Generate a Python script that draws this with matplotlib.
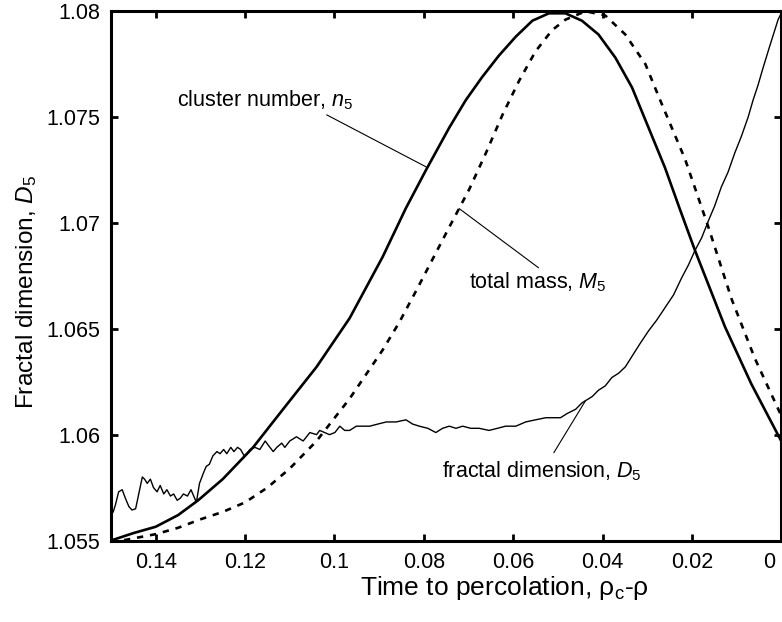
import matplotlib
matplotlib.use("Agg")
import matplotlib.pyplot as plt
import matplotlib.transforms as mtransforms
import numpy as np

plt.rcParams['font.family'] = ['Liberation Sans', 'DejaVu Sans']
plt.rcParams['mathtext.fontset'] = 'custom'
plt.rcParams['mathtext.rm'] = 'Liberation Sans'
plt.rcParams['mathtext.it'] = 'Liberation Sans:italic'

# cluster number n5 (solid)
n5_x = [0.15, 0.145, 0.14, 0.135, 0.1305, 0.125, 0.1182, 0.1115, 0.104, 0.0966,
        0.0892, 0.084, 0.0795, 0.0743, 0.0706, 0.0669, 0.0632, 0.0594, 0.0557,
        0.052, 0.0483, 0.0446, 0.0409, 0.0371, 0.0334, 0.0297, 0.026, 0.0226,
        0.0193, 0.0126, 0.0067, 0.0]
n5_y = [1.0550, 1.05535, 1.05565, 1.0562, 1.0569, 1.0579, 1.0594, 1.0612, 1.0632,
        1.0655, 1.0684, 1.0707, 1.0725, 1.0745, 1.0758, 1.0769, 1.0779, 1.0788,
        1.07955, 1.0799, 1.0799, 1.07955, 1.0789, 1.0778, 1.0764, 1.0745, 1.0726,
        1.0706, 1.0687, 1.0651, 1.0624, 1.0597]

# total mass M5 (dashed)
m5_x = [0.15, 0.145, 0.14, 0.135, 0.13, 0.125, 0.12, 0.115, 0.11, 0.104, 0.0966,
        0.0892, 0.0855, 0.0817, 0.078, 0.0743, 0.0698, 0.0661, 0.0624, 0.0587,
        0.055, 0.0513, 0.0483, 0.0438, 0.0394, 0.0349, 0.0304, 0.0271, 0.0215,
        0.0163, 0.0111, 0.0059, 0.0]
m5_y = [1.0549, 1.0551, 1.0553, 1.0556, 1.0560, 1.05635, 1.0568, 1.0575, 1.0584,
        1.0597, 1.0617, 1.0640, 1.0653, 1.0668, 1.0683, 1.0698, 1.0716, 1.0733,
        1.0751, 1.0767, 1.0781, 1.0791, 1.0796, 1.0800, 1.0798, 1.0789, 1.0775,
        1.0758, 1.0730, 1.0698, 1.0664, 1.0636, 1.0609]

# fractal dimension D5 (thin, noisy)
d5_x = [0.15, 0.1495, 0.149, 0.1483, 0.1475, 0.1468, 0.146, 0.1453, 0.1445, 0.1438,
        0.143, 0.1425, 0.1419, 0.1412, 0.1405, 0.1397, 0.139, 0.1382, 0.1375,
        0.1367, 0.136, 0.1352, 0.1345, 0.1338, 0.1329, 0.1321, 0.1315, 0.1309,
        0.1302, 0.1293, 0.1287, 0.128, 0.1272, 0.1263, 0.1256, 0.1248, 0.1241,
        0.1232, 0.1225, 0.1217, 0.121, 0.1202, 0.1196, 0.1189, 0.1178, 0.1167,
        0.1155, 0.1148, 0.1137, 0.1129, 0.1118, 0.1111, 0.11, 0.1085, 0.107,
        0.1055, 0.104, 0.1033, 0.1022, 0.1011, 0.0999, 0.0988, 0.0977, 0.0966,
        0.0951, 0.0936, 0.0921, 0.0903, 0.0884, 0.0862, 0.084, 0.0825, 0.081,
        0.0791, 0.0773, 0.0758, 0.0743, 0.0728, 0.0713, 0.0695, 0.0676, 0.0654,
        0.0635, 0.0617, 0.0594, 0.0572, 0.055, 0.0527, 0.0513, 0.0494, 0.0479,
        0.046, 0.0446, 0.0423, 0.0409, 0.0394, 0.0379, 0.0364, 0.0349, 0.0334,
        0.0316, 0.0297, 0.0279, 0.026, 0.0241, 0.0223, 0.0208, 0.0193, 0.0178,
        0.0163, 0.0149, 0.0134, 0.0119, 0.0104, 0.0089, 0.0074, 0.0063, 0.0052,
        0.0041, 0.0025, 0.0007, 0.0]
d5_y = [1.0562, 1.05636, 1.0567, 1.0573, 1.0574, 1.0570, 1.0566, 1.05644, 1.0565,
        1.0572, 1.0580, 1.0579, 1.0577, 1.0579, 1.0575, 1.0573, 1.0576, 1.0572,
        1.0574, 1.0571, 1.0572, 1.0569, 1.0570, 1.0572, 1.0571, 1.0574, 1.0571,
        1.0568, 1.0577, 1.0582, 1.0585, 1.0586, 1.0590, 1.0592, 1.0591, 1.0593,
        1.0591, 1.0594, 1.0592, 1.0594, 1.0593, 1.0590, 1.0591, 1.0593, 1.0594,
        1.0593, 1.0597, 1.0595, 1.0592, 1.0594, 1.0596, 1.0594, 1.0597, 1.0599,
        1.0597, 1.0601, 1.0600, 1.0602, 1.0601, 1.0600, 1.0601, 1.0604, 1.0602,
        1.0602, 1.0604, 1.0604, 1.0604, 1.0605, 1.0606, 1.0606, 1.0607, 1.0605,
        1.0604, 1.0603, 1.0601, 1.0603, 1.0604, 1.0603, 1.0604, 1.0603, 1.0603,
        1.0602, 1.0603, 1.0604, 1.0604, 1.0606, 1.0607, 1.0608, 1.0608, 1.0608,
        1.0610, 1.0612, 1.0615, 1.0618, 1.0621, 1.0623, 1.0627, 1.0629, 1.0632,
        1.0637, 1.0643, 1.0649, 1.0654, 1.0660, 1.0666, 1.0674, 1.0680, 1.0687,
        1.0693, 1.0701, 1.0708, 1.0717, 1.0724, 1.0733, 1.0741, 1.0750, 1.0758,
        1.0765, 1.0773, 1.0784, 1.0796, 1.0799]

xticks = [0.14, 0.12, 0.10, 0.08, 0.06, 0.04, 0.02, 0.0]
xtick_labels = ['0.14', '0.12', '0.1', '0.08', '0.06', '0.04', '0.02', '0']
yticks = [1.055, 1.06, 1.065, 1.07, 1.075, 1.08]
ytick_labels = ['1.055', '1.06', '1.065', '1.07', '1.075', '1.08']

fig = plt.figure(figsize=(7.82, 6.22), dpi=100)
ax = fig.add_axes([0.142, 0.131, 0.857, 0.851])

ax.plot(n5_x, n5_y, color='black', lw=1.9)
ax.plot(m5_x, m5_y, color='black', lw=1.9, dashes=(2.4, 2.6))
ax.plot(d5_x, d5_y, color='black', lw=1.0)

ax.set_xlim(0.15, 0.0)
ax.set_ylim(1.055, 1.08)
ax.set_xticks(xticks)
ax.set_xticklabels(xtick_labels)
ax.set_yticks(yticks)
ax.set_yticklabels(ytick_labels)
ax.tick_params(direction='in', length=5, width=2, top=True, right=True,
               labelsize=15.5, pad=8)
for sp in ax.spines.values():
    sp.set_linewidth(2.2)

# last x label sits left of its tick so it stays inside the figure
last = ax.get_xticklabels()[-1]
last.set_transform(last.get_transform() +
                   mtransforms.ScaledTranslation(-12 / 100, 0, fig.dpi_scale_trans))

ax.set_xlabel(r'Time to percolation, $\mathrm{\rho_c}$-$\mathrm{\rho}$', fontsize=19)
ax.xaxis.set_label_coords(0.587, -0.064)
ax.set_ylabel(r'Fractal dimension, $\mathit{D}_{\mathrm{5}}$', fontsize=17.6)
ax.yaxis.set_label_coords(-0.107, 0.47)

line_kw = dict(arrowstyle='-', color='black', lw=0.8, shrinkB=0)

ax.annotate(r'cluster number, $\mathit{n}_{\mathrm{5}}$',
            xy=(0.0792, np.interp(0.0792, n5_x[::-1], n5_y[::-1])),
            xytext=(0.1352, 1.0755), fontsize=15.5,
            ha='left', va='baseline',
            arrowprops=dict(relpos=(0.82, 0.0), shrinkA=0, **line_kw))
ax.annotate(r'total mass, $\mathit{M}_{\mathrm{5}}$',
            xy=(0.0721, np.interp(0.0721, m5_x[::-1], m5_y[::-1])),
            xytext=(0.0698, 1.0669), fontsize=15.5,
            ha='left', va='baseline',
            arrowprops=dict(relpos=(0.53, 1.0), shrinkA=0, **line_kw))
ax.annotate(r'fractal dimension, $\mathit{D}_{\mathrm{5}}$',
            xy=(0.0438, np.interp(0.0438, d5_x[::-1], d5_y[::-1])),
            xytext=(0.0759, 1.0580), fontsize=15.5,
            ha='left', va='baseline',
            arrowprops=dict(relpos=(0.54, 1.0), shrinkA=3, **line_kw))

fig.savefig('out.png', dpi=100)
